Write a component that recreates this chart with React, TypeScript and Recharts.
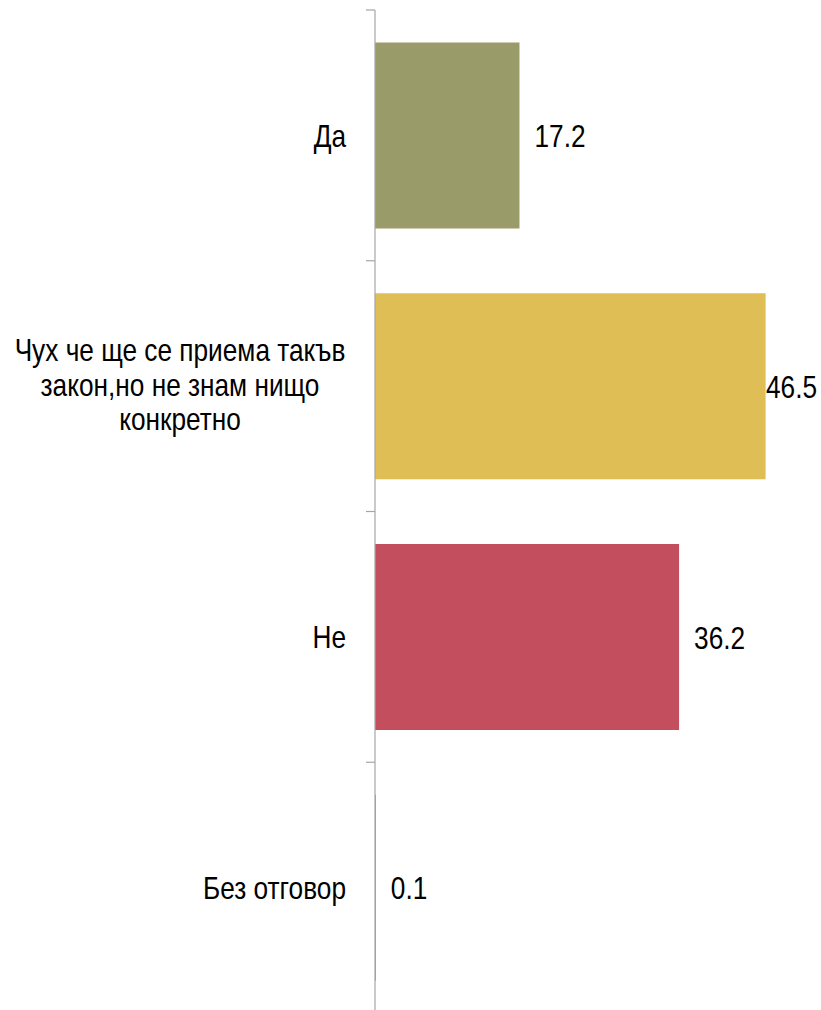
import React from "react";
import { BarChart, Bar, XAxis, YAxis, Cell, LabelList } from "recharts";

const categories = ["Да", "Чух че ще се приема такъв|закон,но не знам нищо|конкретно", "Не", "Без отговор"];
const values = [17.2, 46.5, 36.2, 0.1];
const colors = ["#999c69", "#dfbf55", "#c24e5e", "#8c8c8c"];

const data = categories.map((c, i) => ({ name: c, value: values[i], color: colors[i] }));

const FONT = "'Liberation Sans', Arial, sans-serif";
const FS = 32;
const SX = 0.82;

const CHART_W = 821;
const CHART_H = 1020;
const MARGIN = { top: 10, right: 26, bottom: 7, left: 0 };
const BAND = (CHART_H - MARGIN.top - MARGIN.bottom) / categories.length;
const AXIS_COLOR = "#a6a6a6";

const CatTick = (props: any) => {
  const { x, y, payload } = props;
  const lines = String(payload.value).split("|");
  const tickY = y - BAND / 2;
  const tick = <line x1={x - 9} x2={x} y1={tickY} y2={tickY} stroke={AXIS_COLOR} strokeWidth={1.2} />;
  if (lines.length === 1) {
    return (
      <g>
        {tick}
        <text
          transform={`translate(${x - 29},${y}) scale(${SX},1)`}
          dy="0.36em"
          textAnchor="end"
          fontFamily={FONT}
          fontSize={FS}
          fill="#000"
        >
          {lines[0]}
        </text>
      </g>
    );
  }
  const lh = 34.5;
  const start = -((lines.length - 1) * lh) / 2 - 2;
  return (
    <g>
      {tick}
      <text transform={`translate(${x - 195},${y}) scale(${SX},1)`} textAnchor="middle" fontFamily={FONT} fontSize={FS} fill="#000">
        {lines.map((l, i) => (
          <tspan key={i} x={0} y={start + i * lh} dy="0.36em">
            {l}
          </tspan>
        ))}
      </text>
    </g>
  );
};

const ValueLabel = (props: any) => {
  const { x, y, width, height, value } = props;
  const lx = Math.min(x + width + 15, CHART_W - 55);
  return (
    <text
      transform={`translate(${lx},${y + height / 2}) scale(${SX},1)`}
      dy="0.36em"
      textAnchor="start"
      fontFamily={FONT}
      fontSize={FS}
      fill="#000"
    >
      {value}
    </text>
  );
};

export default function App() {
  return (
    <div style={{ position: "fixed", top: 0, left: 0, width: 821, height: 1010, overflow: "hidden", background: "#fff" }}>
      <BarChart
        width={CHART_W}
        height={CHART_H}
        data={data}
        layout="vertical"
        margin={MARGIN}
        barCategoryGap="13%"
      >
        <XAxis type="number" domain={[0, 50]} hide />
        <YAxis
          type="category"
          dataKey="name"
          orientation="left"
          width={375}
          axisLine={{ stroke: AXIS_COLOR, strokeWidth: 1.2 }}
          tickLine={false}
          tickSize={0}
          tickMargin={0}
          tick={<CatTick />}
          interval={0}
        />
        <Bar dataKey="value" isAnimationActive={false}>
          {data.map((d, i) => (
            <Cell key={i} fill={d.color} />
          ))}
          <LabelList dataKey="value" content={<ValueLabel />} />
        </Bar>
      </BarChart>
    </div>
  );
}
